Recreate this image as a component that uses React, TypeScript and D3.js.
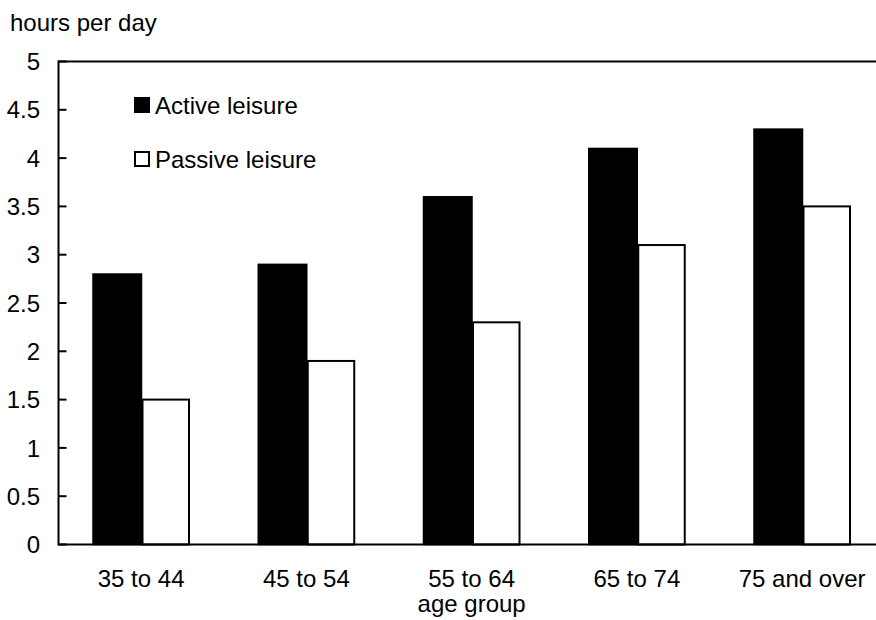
import React from "react";
import * as d3 from "d3";

const categories = ["35 to 44", "45 to 54", "55 to 64", "65 to 74", "75 and over"];
const seriesNames = ["Active leisure", "Passive leisure"];
const activeValues = [2.8, 2.9, 3.6, 4.1, 4.3];
const passiveValues = [1.5, 1.9, 2.3, 3.1, 3.5];
const yTicks = [0, 0.5, 1, 1.5, 2, 2.5, 3, 3.5, 4, 4.5, 5];
const yTitle = "hours per day";
const xTitle = "age group";

const W = 876;
const H = 620;
const FONT = "'Liberation Sans', Arial, sans-serif";
const FS = 24;

export default function App() {
  const left = 58.5;
  const right = 884.75;
  const top = 61.5;
  const bottom = 544.5;

  const y = d3.scaleLinear().domain([0, 5]).range([bottom, top]);
  const x0 = d3.scaleBand<string>().domain(categories).range([left, right]);
  const x1 = d3.scaleBand<string>().domain(seriesNames).range([34.5, 131.5]);
  const values = [activeValues, passiveValues];

  return (
    <svg
      width={W}
      height={H}
      style={{ position: "absolute", left: 0, top: 0, background: "#fff" }}
      fontFamily={FONT}
    >
      <rect x={0} y={0} width={W} height={H} fill="#fff" />
      {/* bars */}
      {categories.map((c, i) =>
        seriesNames.map((s, j) => {
          const v = values[j][i];
          const bx = (x0(c) as number) + (x1(s) as number);
          const bw = x1.bandwidth();
          if (j === 0) {
            return (
              <rect
                key={c + s}
                x={bx}
                y={y(v)}
                width={bw}
                height={bottom - y(v)}
                fill="#000"
                stroke="#000"
                strokeWidth={1.5}
              />
            );
          }
          return (
            <rect
              key={c + s}
              x={bx + 1}
              y={y(v)}
              width={bw - 2}
              height={bottom - y(v)}
              fill="#fff"
              stroke="#000"
              strokeWidth={2}
            />
          );
        })
      )}
      {/* frame */}
      <line x1={left} x2={W} y1={top} y2={top} stroke="#000" strokeWidth={2} />
      <line x1={left} x2={W} y1={bottom} y2={bottom} stroke="#000" strokeWidth={2} />
      <line x1={left} x2={left} y1={top - 1} y2={bottom + 1} stroke="#000" strokeWidth={2} />
      {/* y ticks */}
      {yTicks.map((t) => (
        <g key={t}>
          <line x1={left} x2={left + 8} y1={y(t)} y2={y(t)} stroke="#000" strokeWidth={2} />
          <text x={40} y={y(t)} dy="0.36em" textAnchor="end" fontSize={FS} fill="#000">
            {t}
          </text>
        </g>
      ))}
      {/* x labels */}
      {categories.map((c) => (
        <text
          key={c}
          x={(x0(c) as number) + x0.bandwidth() / 2}
          y={587}
          textAnchor="middle"
          fontSize={FS}
          fill="#000"
        >
          {c}
        </text>
      ))}
      <text x={(left + right) / 2} y={612} textAnchor="middle" fontSize={FS} fill="#000">
        {xTitle}
      </text>
      <text x={10} y={31} fontSize={FS} fill="#000">
        {yTitle}
      </text>
      {/* legend */}
      <rect x={134} y={97} width={16} height={16} fill="#000" />
      <text x={155} y={113.5} fontSize={FS} fill="#000">
        {seriesNames[0]}
      </text>
      <rect x={135} y={152} width={14} height={14} fill="#fff" stroke="#000" strokeWidth={2} />
      <text x={155} y={167.5} fontSize={FS} fill="#000">
        {seriesNames[1]}
      </text>
    </svg>
  );
}
